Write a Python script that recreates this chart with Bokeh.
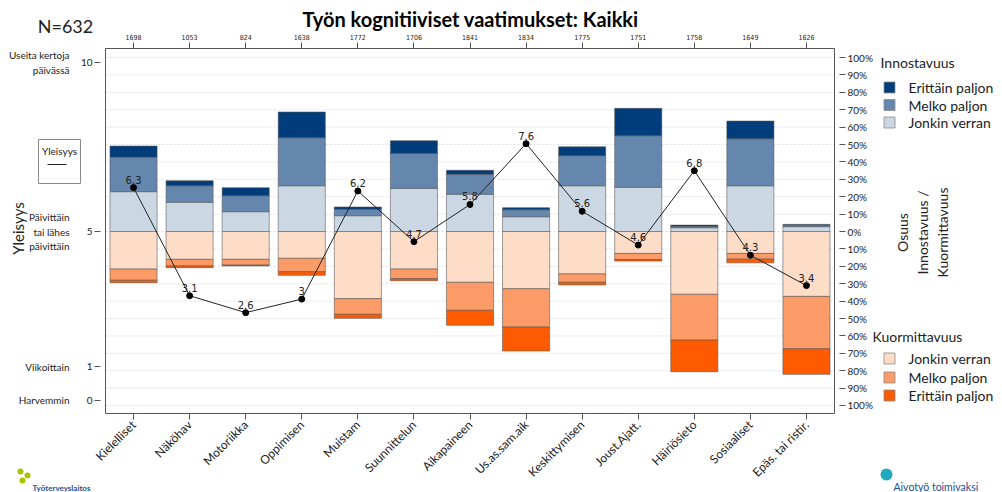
import math
import numpy as np
from bokeh.plotting import figure
from bokeh.models import Range1d, LinearAxis, FixedTicker
from bokeh.embed import file_html
from bokeh.resources import INLINE
from bokeh.core.properties import value

# ---------------- data ----------------
categories = ["Kielelliset", "Näköhav", "Motoriikka", "Oppimisen", "Muistam", "Suunnittelun",
              "Aikapaineen", "Us.as.sam.aik", "Keskittymisen", "Joust.Ajatt.", "Häiriösieto",
              "Sosiaaliset", "Epäs. tai ristir."]
n_values = [1698, 1053, 824, 1638, 1772, 1706, 1841, 1834, 1775, 1751, 1758, 1649, 1626]
frequency = [6.3, 3.1, 2.6, 3, 6.2, 4.7, 5.8, 7.6, 5.6, 4.6, 6.8, 4.3, 3.4]

inno_jonkin = [22.9, 16.8, 11.4, 26.3, 9.1, 24.8, 21.4, 8.5, 26.3, 25.4, 2.2, 26.3, 2.8]
inno_melko = [19.9, 9.5, 9.2, 27.6, 3.7, 20.1, 11.5, 4.0, 17.3, 29.7, 0.8, 27.0, 0.9]
inno_erittain = [6.3, 2.9, 4.6, 14.8, 1.3, 7.3, 2.3, 1.2, 5.1, 15.7, 0.7, 10.2, 0.4]

kuor_jonkin = [21.6, 16.0, 16.0, 15.4, 38.6, 21.6, 29.2, 32.9, 24.4, 12.6, 36.1, 12.6, 37.3]
kuor_melko = [6.4, 3.8, 3.3, 7.7, 9.0, 5.5, 16.1, 22.0, 4.8, 3.5, 26.3, 3.3, 30.1]
kuor_erittain = [1.4, 1.0, 0.5, 2.1, 2.3, 1.2, 8.6, 13.8, 1.5, 0.9, 18.2, 2.1, 14.7]

freq_ticks = [0, 1, 5, 10]
freq_names = ["Harvemmin", "Viikoittain", "Päivittäin\ntai lähes\npäivittäin", "Useita kertoja\npäivässä"]
pct_ticks = [-100, -90, -80, -70, -60, -50, -40, -30, -20, -10, 0,
             10, 20, 30, 40, 50, 60, 70, 80, 90, 100]

inno_names = ["Erittäin paljon", "Melko paljon", "Jonkin verran"]
kuor_names = ["Jonkin verran", "Melko paljon", "Erittäin paljon"]

# ---------------- styling / layout ----------------
C_INNO = {"Erittäin paljon": "#023d7b", "Melko paljon": "#6587ad", "Jonkin verran": "#cbd8e4"}
C_KUOR = {"Jonkin verran": "#fddcc8", "Melko paljon": "#fb9b67", "Erittäin paljon": "#fe5a00"}
FONT = "Lato"
TXT = "#222222"

W, H = 1002, 492
PL, PR, PT, PB = 105, 834, 48, 413          # plot-area box in page pixels
Y_TOP, Y_BOT = 105.2, -104.6                # percent at plot-area top / bottom
XS = (PR - PL) / 13.0                       # px per category
YS = (PB - PT) / (Y_TOP - Y_BOT)            # px per percent
K = 0.05148                                 # frequency units per percent


def X(px):
    return 0.5 + (px - PL) / XS


def Y(py):
    return Y_TOP - (py - PT) / YS


p = figure(width=W, height=H, x_range=Range1d(X(0), X(W)), y_range=Range1d(Y(H), Y(0)),
           x_axis_type=None, y_axis_type=None, output_backend="svg", toolbar_location=None,
           min_border=0, outline_line_color=None,
           background_fill_color="white", border_fill_color="white")
p.extra_y_ranges = {"freq": Range1d(5 + Y(H) * K, 5 + Y(0) * K)}

x = np.arange(1, len(categories) + 1)

# grid lines (dotted) inside plot area
p.segment(x0=[0.5] * len(pct_ticks), x1=[13.5] * len(pct_ticks), y0=pct_ticks, y1=pct_ticks,
          line_color="#d4d4d4", line_dash="2 2", line_width=0.8)

# positive stack (Innostavuus)
b = np.zeros(len(x))
for name, vals in [("Jonkin verran", inno_jonkin), ("Melko paljon", inno_melko),
                   ("Erittäin paljon", inno_erittain)]:
    t = b + np.array(vals)
    p.vbar(x=x, width=0.84, bottom=b, top=t, fill_color=C_INNO[name], line_color="#555555",
           line_width=0.7, line_alpha=0.8)
    b = t
# negative stack (Kuormittavuus)
b = np.zeros(len(x))
for name, vals in [("Jonkin verran", kuor_jonkin), ("Melko paljon", kuor_melko),
                   ("Erittäin paljon", kuor_erittain)]:
    t = b - np.array(vals)
    p.vbar(x=x, width=0.84, bottom=b, top=t, fill_color=C_KUOR[name], line_color="#555555",
           line_width=0.7, line_alpha=0.8)
    b = t

# frequency line
p.line(x, frequency, y_range_name="freq", line_color="#222222", line_width=1)
p.scatter(x, frequency, y_range_name="freq", size=6, color="black")
p.text(x=x, y=frequency, text=[f"{v:g}" for v in frequency], y_range_name="freq", y_offset=-4,
       text_align="center", text_baseline="bottom", text_font_size="10px",
       text_font=value("DejaVu Sans"), text_color=TXT)

# plot-area border
p.rect(x=[7.0], y=[(Y_TOP + Y_BOT) / 2], width=[13.0], height=[Y_TOP - Y_BOT],
       fill_color=None, line_color="#555555", line_width=1)

# ---------------- axes ----------------
common = dict(axis_line_color=None, major_tick_line_color="#555555", minor_tick_line_color=None,
              major_label_text_color=TXT)

left_ax = LinearAxis(y_range_name="freq", ticker=FixedTicker(ticks=freq_ticks),
                     fixed_location=0.5, major_tick_in=-5, major_tick_out=11,
                     major_label_standoff=2, major_label_text_font_size="10px",
                     major_label_text_font=FONT, **common)
p.add_layout(left_ax, "left")

right_ax = LinearAxis(ticker=FixedTicker(ticks=pct_ticks), fixed_location=13.5,
                      major_label_overrides={t: f"{abs(t)}%" for t in pct_ticks},
                      major_tick_in=-5, major_tick_out=11,
                      major_label_standoff=2, major_label_text_font_size="10px",
                      major_label_text_font=FONT, **common)
p.add_layout(right_ax, "right")

top_ax = LinearAxis(ticker=FixedTicker(ticks=list(x)), fixed_location=Y_TOP,
                    major_label_overrides={int(i): str(n) for i, n in zip(x, n_values)},
                    major_tick_in=0, major_tick_out=6,
                    major_label_standoff=3, major_label_text_font_size="7px",
                    major_label_text_font="DejaVu Sans Condensed", **common)
p.add_layout(top_ax, "above")

bot_ax = LinearAxis(ticker=FixedTicker(ticks=list(x)), fixed_location=Y_BOT,
                    major_label_overrides={int(i): c for i, c in zip(x, categories)},
                    major_label_orientation=math.pi / 4,
                    major_tick_in=0, major_tick_out=6,
                    major_label_standoff=3, major_label_text_font_size="12px",
                    major_label_text_font=FONT, **common)
p.add_layout(bot_ax, "below")


# ---------------- texts ----------------
def txt(px, py, s, size, align="left", baseline="middle", angle=0.0, font=FONT, color=TXT,
        style="normal"):
    p.text(x=[X(px)], y=[Y(py)], text=[s], text_font_size=size, text_align=align,
           text_baseline=baseline, angle=angle, text_font=value(font), text_color=color,
           text_font_style=style)


txt(470, 18, "Työn kognitiiviset vaatimukset: Kaikki", "20px", align="center",
    style="bold", color="black")
txt(65, 25, "N=632", "18px", align="center")

p.text(x=[X(69)] * len(freq_ticks), y=freq_ticks, y_range_name="freq", text=freq_names,
       text_align="right", text_baseline="middle", text_font_size="10px",
       text_font=value(FONT), text_color=TXT)

txt(17, 228, "Yleisyys", "15px", align="center", angle=math.pi / 2)

# small "Yleisyys" legend box
p.rect(x=[X(59)], y=[Y(161)], width=[42 / XS], height=[44 / YS], fill_color="white",
       line_color="#8a8a8a", line_width=1)
txt(59, 150, "Yleisyys", "10px", align="center")
p.segment(x0=[X(47)], x1=[X(66)], y0=[Y(164)], y1=[Y(164)], line_color="#222222", line_width=1)

txt(922, 232, "Osuus\nInnostavuus /\nKuormittavuus", "14px", align="center",
    angle=math.pi / 2)

# legends
txt(880, 62, "Innostavuus", "14px")
inno_y = [87, 104.5, 122]
p.scatter(x=[X(889)] * 3, y=[Y(v) for v in inno_y], marker="square", size=11,
          fill_color=[C_INNO[n] for n in inno_names], line_color="#8a8a8a", line_width=0.8)
for v, nm in zip(inno_y, inno_names):
    txt(908, v, nm, "14px")

txt(872, 336, "Kuormittavuus", "14px")
kuor_y = [358, 377, 395]
p.scatter(x=[X(889)] * 3, y=[Y(v) for v in kuor_y], marker="square", size=11,
          fill_color=[C_KUOR[n] for n in kuor_names], line_color="#8a8a8a", line_width=0.8)
for v, nm in zip(kuor_y, kuor_names):
    txt(908, v, nm, "14px")

# logos
p.scatter(x=[X(20), X(27), X(22)], y=[Y(471), Y(475), Y(480)], marker="circle", size=[6, 6, 6],
          fill_color=["#a9c200", "#a9c200", "#a9c200"], line_color=None)
txt(32, 487, "Työterveyslaitos", "8px", style="bold", color="#1d4f91")
p.scatter(x=[X(886)], y=[Y(474)], marker="circle", size=12, fill_color="#22a9bd", line_color=None)
txt(893, 486, "Aivotyö toimivaksi", "10.5px", color="#1d4f91")

open("out.html", "w").write(file_html(p, INLINE))
